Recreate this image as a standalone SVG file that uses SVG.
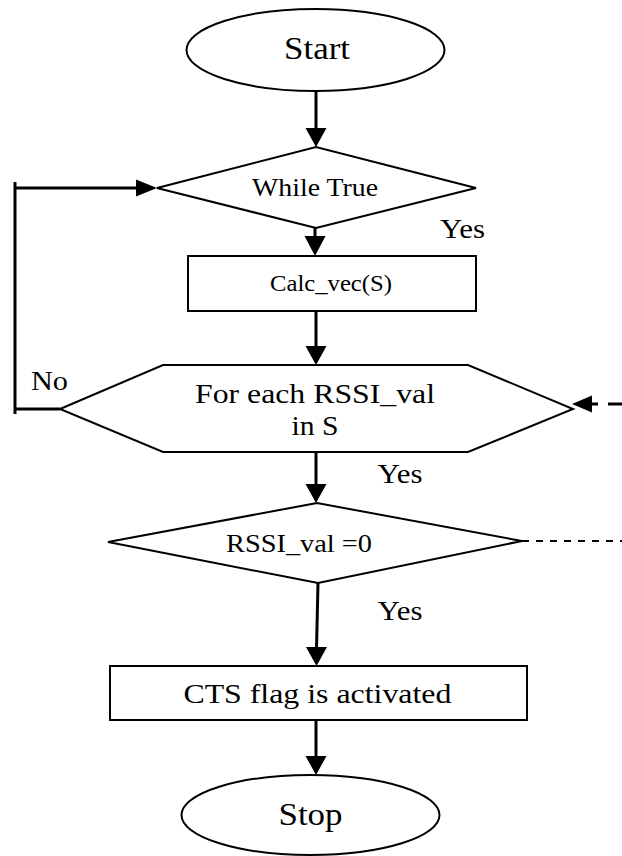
<svg xmlns="http://www.w3.org/2000/svg" width="622" height="856" viewBox="0 0 622 856">
<style>
.shape{fill:#fff;stroke:#000;stroke-width:2}
.conn{stroke:#000;stroke-width:3;fill:none}
.dash1{stroke:#000;stroke-width:3;fill:none;stroke-dasharray:14 10}
.dash2{stroke:#000;stroke-width:2;fill:none;stroke-dasharray:7 7}
.head{fill:#000;stroke:none}
text{font-family:"Liberation Serif","Times New Roman",serif;fill:#000;text-anchor:middle}
</style>
<rect x="0" y="0" width="622" height="856" fill="#fff"/>
<g id="connectors">
  <line class="conn" x1="316" y1="91" x2="316" y2="130"/>
  <polygon class="head" points="305.5,128 326.5,128 316,147"/>
  <line class="conn" x1="315" y1="228" x2="315" y2="238"/>
  <polygon class="head" points="304.5,236 325.5,236 315,256"/>
  <line class="conn" x1="316" y1="311" x2="316" y2="348"/>
  <polygon class="head" points="305.5,346 326.5,346 316,365"/>
  <line class="conn" x1="316" y1="452" x2="316" y2="486"/>
  <polygon class="head" points="305.5,484 326.5,484 316,503"/>
  <line class="conn" x1="318" y1="583" x2="316.5" y2="649"/>
  <polygon class="head" points="306,647 327,647 316.5,666"/>
  <line class="conn" x1="316" y1="720" x2="316" y2="758"/>
  <polygon class="head" points="305.5,756 326.5,756 316,775"/>
  <line class="conn" x1="15" y1="182" x2="15" y2="414"/>
  <line class="conn" x1="15" y1="409" x2="60" y2="409"/>
  <line class="conn" x1="15" y1="188" x2="138" y2="188"/>
  <polygon class="head" points="136,179.5 136,196.5 157,188"/>
  <line class="dash1" x1="622" y1="404" x2="588" y2="404"/>
  <polygon class="head" points="572,404 592,395.5 592,412.5"/>
  <line class="dash2" x1="522" y1="541" x2="622" y2="541"/>
  <text x="462.5" y="238" font-size="27" textLength="45" lengthAdjust="spacingAndGlyphs">Yes</text>
  <text x="49.5" y="390" font-size="27" textLength="37" lengthAdjust="spacingAndGlyphs">No</text>
  <text x="400" y="483" font-size="27" textLength="45" lengthAdjust="spacingAndGlyphs">Yes</text>
  <text x="400" y="620" font-size="27" textLength="45" lengthAdjust="spacingAndGlyphs">Yes</text>
</g>
<g id="start">
  <ellipse class="shape" cx="315.5" cy="50" rx="129" ry="41"/>
  <text x="317" y="59.3" font-size="32" textLength="66" lengthAdjust="spacingAndGlyphs">Start</text>
</g>
<g id="while">
  <polygon class="shape" points="157,188 316,147 476,188 316,228"/>
  <text x="315" y="195.7" font-size="25.5" textLength="126" lengthAdjust="spacingAndGlyphs">While True</text>
</g>
<g id="calc">
  <rect class="shape" x="188" y="256" width="288" height="55"/>
  <text x="331" y="291" font-size="23" textLength="122" lengthAdjust="spacingAndGlyphs">Calc_vec(S)</text>
</g>
<g id="foreach">
  <polygon class="shape" points="60,409 163,365 468,365 573,409 468,452 163,452"/>
  <text x="315" y="403.3" font-size="27.5" textLength="240" lengthAdjust="spacingAndGlyphs">For each RSSI_val</text>
  <text x="315" y="435" font-size="27.5" textLength="47" lengthAdjust="spacingAndGlyphs">in S</text>
</g>
<g id="rssi">
  <polygon class="shape" points="108,542 317,503 522,541 318,583"/>
  <text x="299" y="551.7" font-size="25.5" textLength="146" lengthAdjust="spacingAndGlyphs">RSSI_val =0</text>
</g>
<g id="cts">
  <rect class="shape" x="110" y="666" width="417" height="54"/>
  <text x="317.4" y="702.7" font-size="28" textLength="268" lengthAdjust="spacingAndGlyphs">CTS flag is activated</text>
</g>
<g id="stop">
  <ellipse class="shape" cx="310.5" cy="815" rx="129" ry="40"/>
  <text x="310.5" y="825" font-size="31" textLength="64" lengthAdjust="spacingAndGlyphs">Stop</text>
</g>
</svg>
